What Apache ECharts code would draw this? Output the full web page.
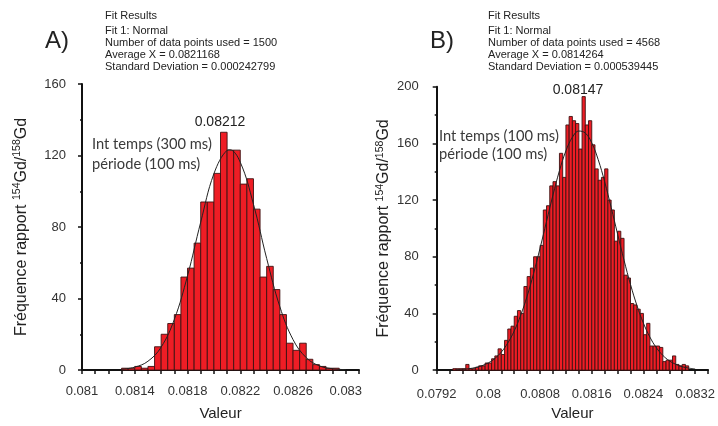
<!DOCTYPE html>
<html>
<head>
<meta charset="utf-8">
<script src="https://cdn.jsdelivr.net/npm/echarts@6/dist/echarts.min.js"></script>
<style>
  html, body { margin: 0; padding: 0; background: #fff; }
  #chart { width: 718px; height: 426px; }
</style>
</head>
<body>
<div id="chart"></div>
<script>
// histogram bins (fixed width)
const binWidth = 0.00005;
const binStartA = 0.0813;
const countsA = [1, 1, 2, 1, 2, 13, 20, 26, 31, 52, 57, 71, 94, 94, 110, 133, 123, 123, 104, 107,
  90, 52, 58, 45, 31, 15, 11, 15, 6, 3, 2, 1, 1];
const binStartB = 0.07945;
const countsB = [1, 1, 1, 1, 4, 1, 1, 2, 3, 3, 5, 5, 8, 10, 15, 11,
  21, 29, 31, 38, 42, 40, 59, 66, 72, 80, 80, 88,
  113, 116, 130, 133, 130, 153, 136, 173, 179, 176, 174, 156, 193,
  173, 176, 159, 142, 134, 136, 142, 120, 113, 91, 98, 93,
  67, 65, 47, 46, 43, 40, 25, 33, 17, 17, 17, 16, 6, 7, 7, 10, 4, 3, 4, 3];

// normal fit curves
const fitXA = [0.0813, 0.0814, 0.0815, 0.0816, 0.0817, 0.0818, 0.0819, 0.0820, 0.0821, 0.08212,
  0.0822, 0.0823, 0.0824, 0.0825, 0.0826, 0.0827, 0.0828, 0.0829, 0.0830];
const fitYA = [0.4, 1.6, 4.9, 12.8, 28.3, 52.7, 82.7, 109.8, 122.9, 123.2,
  116.2, 92.7, 62.4, 35.4, 17.0, 6.9, 2.3, 0.7, 0.2];
const fitXB = [0.0795, 0.0796, 0.0797, 0.0798, 0.0799, 0.0800, 0.0801, 0.0802, 0.0803, 0.0804,
  0.0805, 0.0806, 0.0807, 0.0808, 0.0809, 0.0810, 0.0811, 0.0812, 0.0813, 0.0814,
  0.0815, 0.0816, 0.0817, 0.0818, 0.0819, 0.0820, 0.0821, 0.0822, 0.0823, 0.0824,
  0.0825, 0.0826, 0.0827, 0.0828, 0.0829, 0.0830, 0.0831, 0.0832];
const fitYB = [0.3, 0.6, 1.0, 1.8, 3.1, 5.1, 8.2, 12.7, 19.1, 27.6,
  38.7, 52.2, 68.2, 86.1, 104.9, 123.6, 140.7, 154.7, 164.3, 168.7,
  167.3, 160.4, 148.5, 132.9, 114.9, 96.0, 77.5, 60.4, 45.5, 33.1,
  23.3, 15.8, 10.4, 6.6, 4.1, 2.4, 1.4, 0.8];

// tick labels
const xLabelsA = [0.081, 0.0814, 0.0818, 0.0822, 0.0826, 0.083];
const xLabelsB = [0.0792, 0.08, 0.0808, 0.0816, 0.0824, 0.0832];
const fitTextA = ['Fit Results', 'Fit 1: Normal', 'Number of data points used = 1500',
  'Average X = 0.0821168', 'Standard Deviation = 0.000242799'];
const fitTextB = ['Fit Results', 'Fit 1: Normal', 'Number of data points used = 4568',
  'Average X = 0.0814264', 'Standard Deviation = 0.000539445'];

const font = '"Liberation Sans", Arial, sans-serif';

const toBins = (start, counts) =>
  counts.map((c, i) => [start + i * binWidth, start + (i + 1) * binWidth, c]);

const renderBar = (params, api) => {
  const p0 = api.coord([api.value(0), api.value(2)]);
  const p1 = api.coord([api.value(1), 0]);
  return {
    type: 'rect',
    shape: { x: p0[0], y: p0[1], width: p1[0] - p0[0], height: p1[1] - p0[1] },
    style: { fill: '#ee1d25', stroke: '#3d1212', lineWidth: 0.9 },
  };
};

const xAxisFor = (gridIndex, min, max, interval, labels) => ({
  type: 'value',
  gridIndex,
  min,
  max,
  interval,
  name: 'Valeur',
  nameLocation: 'middle',
  nameGap: gridIndex === 0 ? 36 : 34,
  nameTextStyle: { fontFamily: font, fontSize: 15, color: '#222' },
  axisLine: { onZero: false, lineStyle: { color: '#111', width: 2 } },
  axisTick: { show: true, length: 4, lineStyle: { color: '#111', width: 1.5 } },
  splitLine: { show: false },
  axisLabel: {
    fontFamily: font, fontSize: 13, color: '#333',
    margin: gridIndex === 0 ? 15 : 18,
    formatter: (v) => {
      const hit = labels.find((l) => Math.abs(l - v) < 1e-9);
      return hit === undefined ? '' : String(hit);
    },
  },
});

const yAxisFor = (gridIndex, max, gap) => ({
  type: 'value',
  gridIndex,
  min: 0,
  max,
  interval: 40,
  name: 'Fréquence rapport {sup|154}Gd/{sup|158}Gd',
  nameLocation: 'middle',
  nameGap: gap,
  nameTextStyle: {
    fontFamily: font, fontSize: 16, color: '#222', lineHeight: 19,
    rich: { sup: { fontFamily: font, fontSize: 10.5, color: '#222', verticalAlign: 'top', lineHeight: 19 } },
  },
  axisLine: { show: true, lineStyle: { color: '#111', width: 2 } },
  axisTick: { show: true, length: 4, lineStyle: { color: '#111', width: 1.5 } },
  minorTick: { show: true, splitNumber: 2, length: 2, lineStyle: { color: '#111', width: 1.5 } },
  splitLine: { show: false },
  axisLabel: { fontFamily: font, fontSize: 13, color: '#333', margin: gridIndex === 0 ? 16 : 18 },
});

const textLines = (lines, x, ys) =>
  lines.map((t, i) => ({
    type: 'text', x, y: ys[i],
    style: { text: t, font: '11px ' + font, fill: '#222', verticalAlign: 'middle' },
  }));

const myChart = echarts.init(document.getElementById('chart'));
const option = {
  animation: false,
  grid: [
    { left: 82, top: 84, width: 277, height: 288.7 },
    { left: 436.7, top: 86.7, width: 274.6, height: 289 },
  ],
  xAxis: [
    xAxisFor(0, 0.081, 0.0831, 0.0001, xLabelsA),
    xAxisFor(1, 0.0792, 0.0834, 0.0002, xLabelsB),
  ],
  yAxis: [yAxisFor(0, 160, 51), yAxisFor(1, 200, 40)],
  series: [
    {
      type: 'custom', xAxisIndex: 0, yAxisIndex: 0,
      renderItem: renderBar, encode: { x: [0, 1], y: 2 },
      data: toBins(binStartA, countsA),
    },
    {
      type: 'line', xAxisIndex: 0, yAxisIndex: 0, smooth: 0.4, symbol: 'none',
      lineStyle: { color: '#222', width: 1 },
      data: fitXA.map((x, i) => [x, fitYA[i]]),
    },
    {
      type: 'custom', xAxisIndex: 1, yAxisIndex: 1,
      renderItem: renderBar, encode: { x: [0, 1], y: 2 },
      data: toBins(binStartB, countsB),
    },
    {
      type: 'line', xAxisIndex: 1, yAxisIndex: 1, smooth: 0.4, symbol: 'none',
      lineStyle: { color: '#222', width: 1 },
      data: fitXB.map((x, i) => [x, fitYB[i]]),
    },
  ],
  graphic: [
    { type: 'text', x: 45, y: 41, style: { text: 'A)', font: '24px ' + font, fill: '#222', verticalAlign: 'middle' } },
    { type: 'text', x: 430, y: 41, style: { text: 'B)', font: '24px ' + font, fill: '#222', verticalAlign: 'middle' } },
    ...textLines(fitTextA, 105, [16, 30.5, 42.5, 54.5, 67]),
    ...textLines(fitTextB, 488, [16, 30.5, 42.5, 54.5, 67]),
    { type: 'text', x: 220, y: 122, style: { text: '0.08212', font: '14px ' + font, fill: '#222', align: 'center', verticalAlign: 'middle' } },
    { type: 'text', x: 578, y: 90, style: { text: '0.08147', font: '14px ' + font, fill: '#222', align: 'center', verticalAlign: 'middle' } },
    { type: 'text', x: 92, y: 144, style: { text: 'Int temps (300 ms)', font: '14.7px Lato, sans-serif', fill: '#3a3a3a', verticalAlign: 'middle' } },
    { type: 'text', x: 92, y: 164, style: { text: 'période (100 ms)', font: '14.7px Lato, sans-serif', fill: '#3a3a3a', verticalAlign: 'middle' } },
    { type: 'text', x: 439, y: 136, style: { text: 'Int temps (100 ms)', font: '14.7px Lato, sans-serif', fill: '#3a3a3a', verticalAlign: 'middle' } },
    { type: 'text', x: 439, y: 154, style: { text: 'période (100 ms)', font: '14.7px Lato, sans-serif', fill: '#3a3a3a', verticalAlign: 'middle' } },
  ],
};
myChart.setOption(option);
window.addEventListener('resize', () => {
  myChart.resize();
});
</script>
</body>
</html>
